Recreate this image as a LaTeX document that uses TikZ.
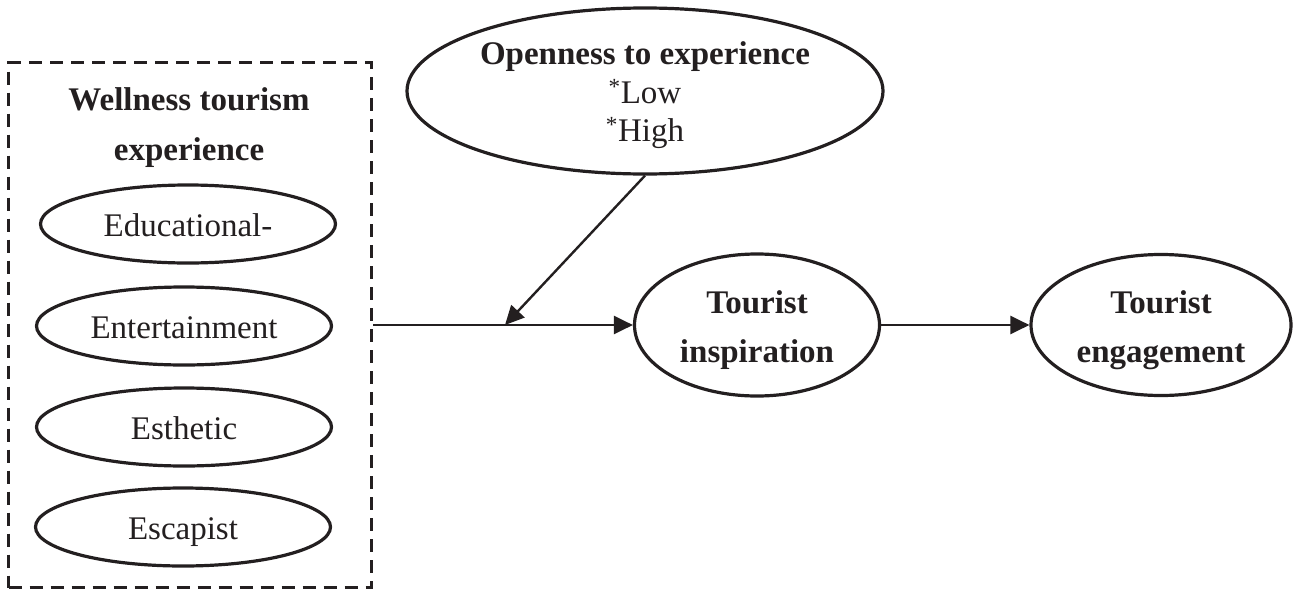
\documentclass[tikz,border=0pt]{standalone}
\usepackage{fontspec}
\setmainfont{Liberation Serif}
\usetikzlibrary{shapes.geometric,arrows.meta}
\definecolor{ink}{RGB}{35,31,32}
\begin{document}
\begin{tikzpicture}[x=1pt,y=-1pt,
  ell/.style={ellipse,draw=ink,line width=3.2pt,inner sep=0pt},
  smallell/.style={ell,minimum width=295pt,minimum height=78pt,
     font=\fontsize{33}{38}\selectfont,text height=25pt,text depth=0pt,text=ink},
  boldtxt/.style={font=\fontsize{33}{49.5}\selectfont\bfseries,align=center,text=ink,inner sep=0pt},
  arr/.style={draw=ink,line width=2.4pt,-{Triangle[length=19pt,width=18pt]}},
  framebox/.style={draw=ink,line width=3.2pt,dash pattern=on 13pt off 8pt,inner sep=0pt}
]
\useasboundingbox (0,0) rectangle (1298,597);
% left dashed frame
\node[framebox,minimum width=363pt,minimum height=525pt] (box) at (190,325) {};
\node[boldtxt] (wtitle) at (189,127.5) {Wellness tourism\\experience};
\node[smallell] (edu) at (188,224) {Educational-};
\node[smallell] (ent) at (184,326) {Entertainment};
\node[smallell] (est) at (184,427) {Esthetic};
\node[smallell] (esc) at (183,527) {Escapist};
% moderator
\node[ell,minimum width=476pt,minimum height=166pt] (open) at (645,91) {};
\node[font=\fontsize{33}{38.5}\selectfont,align=center,text=ink,inner sep=0pt] (opentxt) at (645,95.5)
  {\textbf{Openness to experience}\\\textsuperscript{*}Low\\\textsuperscript{*}High};
% outcomes
\node[ell,minimum width=245pt,minimum height=142pt] (insp) at (757,325) {};
\node[boldtxt] (insptxt) at (757,330) {Tourist\\inspiration};
\node[ell,minimum width=260pt,minimum height=141pt] (eng) at (1161,325) {};
\node[boldtxt] (engtxt) at (1161,330) {Tourist\\engagement};
% connectors
\coordinate (mod) at (505,325);
\draw[arr] (box.east) -- (insp.west);
\draw[arr] (open.south) -- (mod);
\draw[arr] (insp.east) -- (eng.west);
\end{tikzpicture}
\end{document}
